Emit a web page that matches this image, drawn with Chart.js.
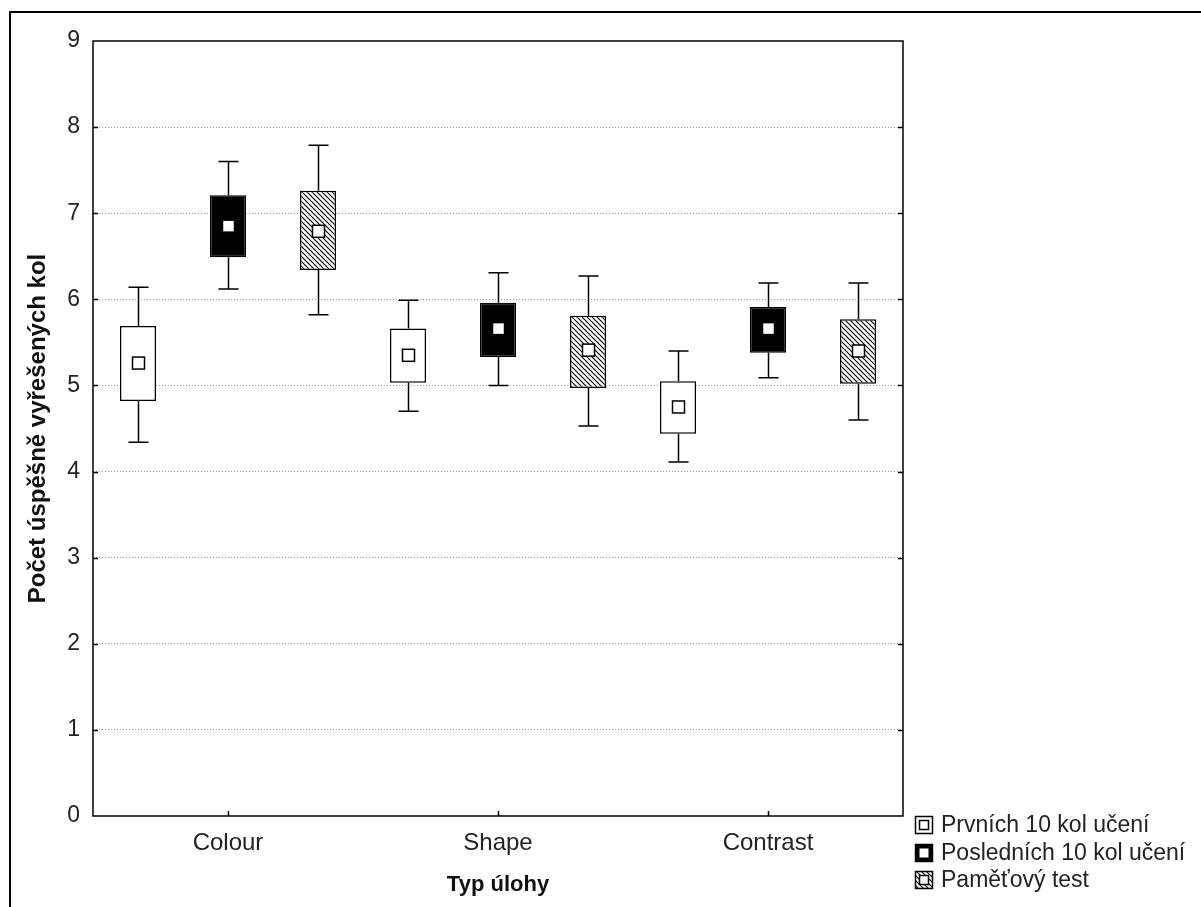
<!DOCTYPE html>
<html>
<head>
<meta charset="utf-8">
<script src="https://cdn.jsdelivr.net/npm/chart.js@4/dist/chart.umd.min.js"></script>
<style>
  body { margin: 0; background: #fff; }
</style>
</head>
<body>
<canvas id="myChart" width="1201" height="907"></canvas>
<script>
var categories = ["Colour", "Shape", "Contrast"];
var seriesNames = ["Prvních 10 kol učení", "Posledních 10 kol učení", "Paměťový test"];

// prvních 10 kol
var prvniMean = [5.26, 5.35, 4.75];
var prvniBoxLow = [4.82, 5.03, 4.44];
var prvniBoxHigh = [5.69, 5.66, 5.05];
var prvniMin = [4.34, 4.70, 4.11];
var prvniMax = [6.14, 5.99, 5.40];

// posledních 10 kol
var posledniMean = [6.85, 5.66, 5.66];
var posledniBoxLow = [6.49, 5.33, 5.38];
var posledniBoxHigh = [7.21, 5.96, 5.91];
var posledniMin = [6.12, 5.00, 5.09];
var posledniMax = [7.60, 6.31, 6.19];

// pamětový test
var pametMean = [6.79, 5.41, 5.40];
var pametBoxLow = [6.34, 4.97, 5.02];
var pametBoxHigh = [7.26, 5.81, 5.77];
var pametMin = [5.82, 4.53, 4.60];
var pametMax = [7.79, 6.27, 6.19];

var yTicks = [0, 1, 2, 3, 4, 5, 6, 7, 8, 9];

var fontFamily = 'Arial, "Liberation Sans", sans-serif';
Chart.defaults.font.family = fontFamily;
Chart.defaults.color = "#222";

function hatchPattern() {
  var c = document.createElement('canvas');
  c.width = 5; c.height = 5;
  var g = c.getContext('2d');
  g.fillStyle = "#fff";
  g.fillRect(0, 0, 5, 5);
  g.strokeStyle = "#000";
  g.lineWidth = 1.1;
  g.beginPath();
  g.moveTo(-1, -1); g.lineTo(6, 6);
  g.moveTo(4, -1); g.lineTo(6, 1);
  g.moveTo(-1, 4); g.lineTo(1, 6);
  g.stroke();
  return document.getElementById('myChart').getContext('2d').createPattern(c, 'repeat');
}
var hatch = hatchPattern();

function pairs(lo, hi) {
  var out = [];
  for (var i = 0; i < lo.length; i++) out.push([lo[i], hi[i]]);
  return out;
}

var extra = [
  {mean: prvniMean, min: prvniMin, max: prvniMax},
  {mean: posledniMean, min: posledniMin, max: posledniMax},
  {mean: pametMean, min: pametMin, max: pametMax}
];

// frame, inner ticks, whiskers, means, legend
var boxPlugin = {
  id: 'boxExtras',
  beforeDraw: function(chart) {
    var ctx = chart.ctx;
    ctx.save();
    ctx.strokeStyle = "#000";
    ctx.lineWidth = 2;
    ctx.beginPath();
    ctx.moveTo(10, 907);
    ctx.lineTo(10, 12);
    ctx.lineTo(1201, 12);
    ctx.stroke();
    ctx.restore();
  },
  afterDatasetsDraw: function(chart) {
    var ctx = chart.ctx;
    var y = chart.scales.y;
    var x = chart.scales.x;
    var a = chart.chartArea;
    ctx.save();
    ctx.strokeStyle = "#000";
    ctx.lineWidth = 1.5;
    for (var d = 0; d < extra.length; d++) {
      var meta = chart.getDatasetMeta(d);
      var ds = chart.data.datasets[d];
      for (var j = 0; j < meta.data.length; j++) {
        var bx = Math.round(meta.data[j].x) + 0.5;
        var top = y.getPixelForValue(ds.data[j][1]);
        var bot = y.getPixelForValue(ds.data[j][0]);
        var wt = y.getPixelForValue(extra[d].max[j]);
        var wb = y.getPixelForValue(extra[d].min[j]);
        ctx.beginPath();
        ctx.moveTo(bx, top); ctx.lineTo(bx, wt);
        ctx.moveTo(bx - 10, wt); ctx.lineTo(bx + 10, wt);
        ctx.moveTo(bx, bot); ctx.lineTo(bx, wb);
        ctx.moveTo(bx - 10, wb); ctx.lineTo(bx + 10, wb);
        ctx.stroke();
        var my = y.getPixelForValue(extra[d].mean[j]);
        ctx.fillStyle = "#fff";
        ctx.fillRect(bx - 6, my - 6, 12, 12);
        ctx.strokeRect(bx - 6, my - 6, 12, 12);
      }
    }
    // plot frame
    ctx.strokeRect(a.left, a.top, a.right - a.left, a.bottom - a.top);
    // small inner ticks
    ctx.beginPath();
    for (var t = 1; t < yTicks.length - 1; t++) {
      var ty = Math.round(y.getPixelForValue(yTicks[t])) + 0.5;
      ctx.moveTo(a.left, ty); ctx.lineTo(a.left + 5, ty);
      ctx.moveTo(a.right, ty); ctx.lineTo(a.right - 5, ty);
    }
    for (var k = 0; k < categories.length; k++) {
      var tx = Math.round(x.getPixelForValue(k)) + 0.5;
      ctx.moveTo(tx, a.bottom); ctx.lineTo(tx, a.bottom - 5);
    }
    ctx.stroke();
    ctx.restore();
  },
  afterDraw: function(chart) {
    var ctx = chart.ctx;
    var fills = ["#fff", "#000", hatch];
    ctx.save();
    ctx.font = "23px " + fontFamily;
    ctx.textBaseline = "middle";
    ctx.textAlign = "left";
    for (var i = 0; i < seriesNames.length; i++) {
      var cy = Math.round(825 + i * 27.5);
      ctx.fillStyle = fills[i];
      ctx.fillRect(915, cy - 9, 18, 18);
      ctx.strokeStyle = "#000";
      ctx.lineWidth = 1.5;
      ctx.strokeRect(915.5, cy - 8.5, 17, 17);
      ctx.fillStyle = "#fff";
      ctx.fillRect(919.5, cy - 4.5, 9, 9);
      if (i != 1) ctx.strokeRect(919.5, cy - 4.5, 9, 9);
      ctx.fillStyle = "#222";
      ctx.fillText(seriesNames[i], 941, cy + 1);
    }
    ctx.restore();
  }
};

var chart = new Chart(document.getElementById("myChart"), {
  type: 'bar',
  data: {
    labels: categories,
    datasets: [{
      label: seriesNames[0],
      data: pairs(prvniBoxLow, prvniBoxHigh),
      backgroundColor: "#fff",
      borderColor: "#000",
      borderWidth: 1.5,
      borderSkipped: false
    }, {
      label: seriesNames[1],
      data: pairs(posledniBoxLow, posledniBoxHigh),
      backgroundColor: "#000",
      borderColor: "#000",
      borderWidth: 1.5,
      borderSkipped: false
    }, {
      label: seriesNames[2],
      data: pairs(pametBoxLow, pametBoxHigh),
      backgroundColor: hatch,
      borderColor: "#000",
      borderWidth: 1.5,
      borderSkipped: false
    }]
  },
  options: {
    responsive: false,
    animation: false,
    categoryPercentage: 1.0,
    barPercentage: 0.4,
    layout: { padding: { left: 0, top: 41, right: 298, bottom: 0 } },
    plugins: {
      legend: { display: false },
      tooltip: { enabled: false }
    },
    scales: {
      x: {
        grid: { display: false },
        border: { display: false },
        ticks: { font: { size: 24 }, color: "#222", padding: 5 },
        title: {
          display: true,
          text: "Typ úlohy",
          font: { size: 22, weight: 'bold' },
          color: "#111",
          padding: { top: 0, bottom: 9 }
        },
        afterFit: function(scale) { scale.height = 91; }
      },
      y: {
        min: 0,
        max: 9,
        afterBuildTicks: function(scale) {
          scale.ticks = yTicks.map(function(v) { return {value: v}; });
        },
        grid: {
          drawTicks: false,
          color: function(c) {
            var v = c.tick.value;
            return (v == 0 || v == 9) ? "rgba(0,0,0,0)" : "#9a9a9a";
          },
          lineWidth: 1
        },
        border: { display: false, dash: [1, 2] },
        ticks: { font: { size: 23 }, color: "#222", padding: 13 },
        title: {
          display: true,
          text: "Počet úspěšně vyřešených kol",
          font: { size: 24, weight: 'bold' },
          color: "#111",
          padding: { top: 24, bottom: 0 }
        },
        afterFit: function(scale) { scale.width = 93; }
      }
    }
  },
  plugins: [boxPlugin]
});
</script>
</body>
</html>
